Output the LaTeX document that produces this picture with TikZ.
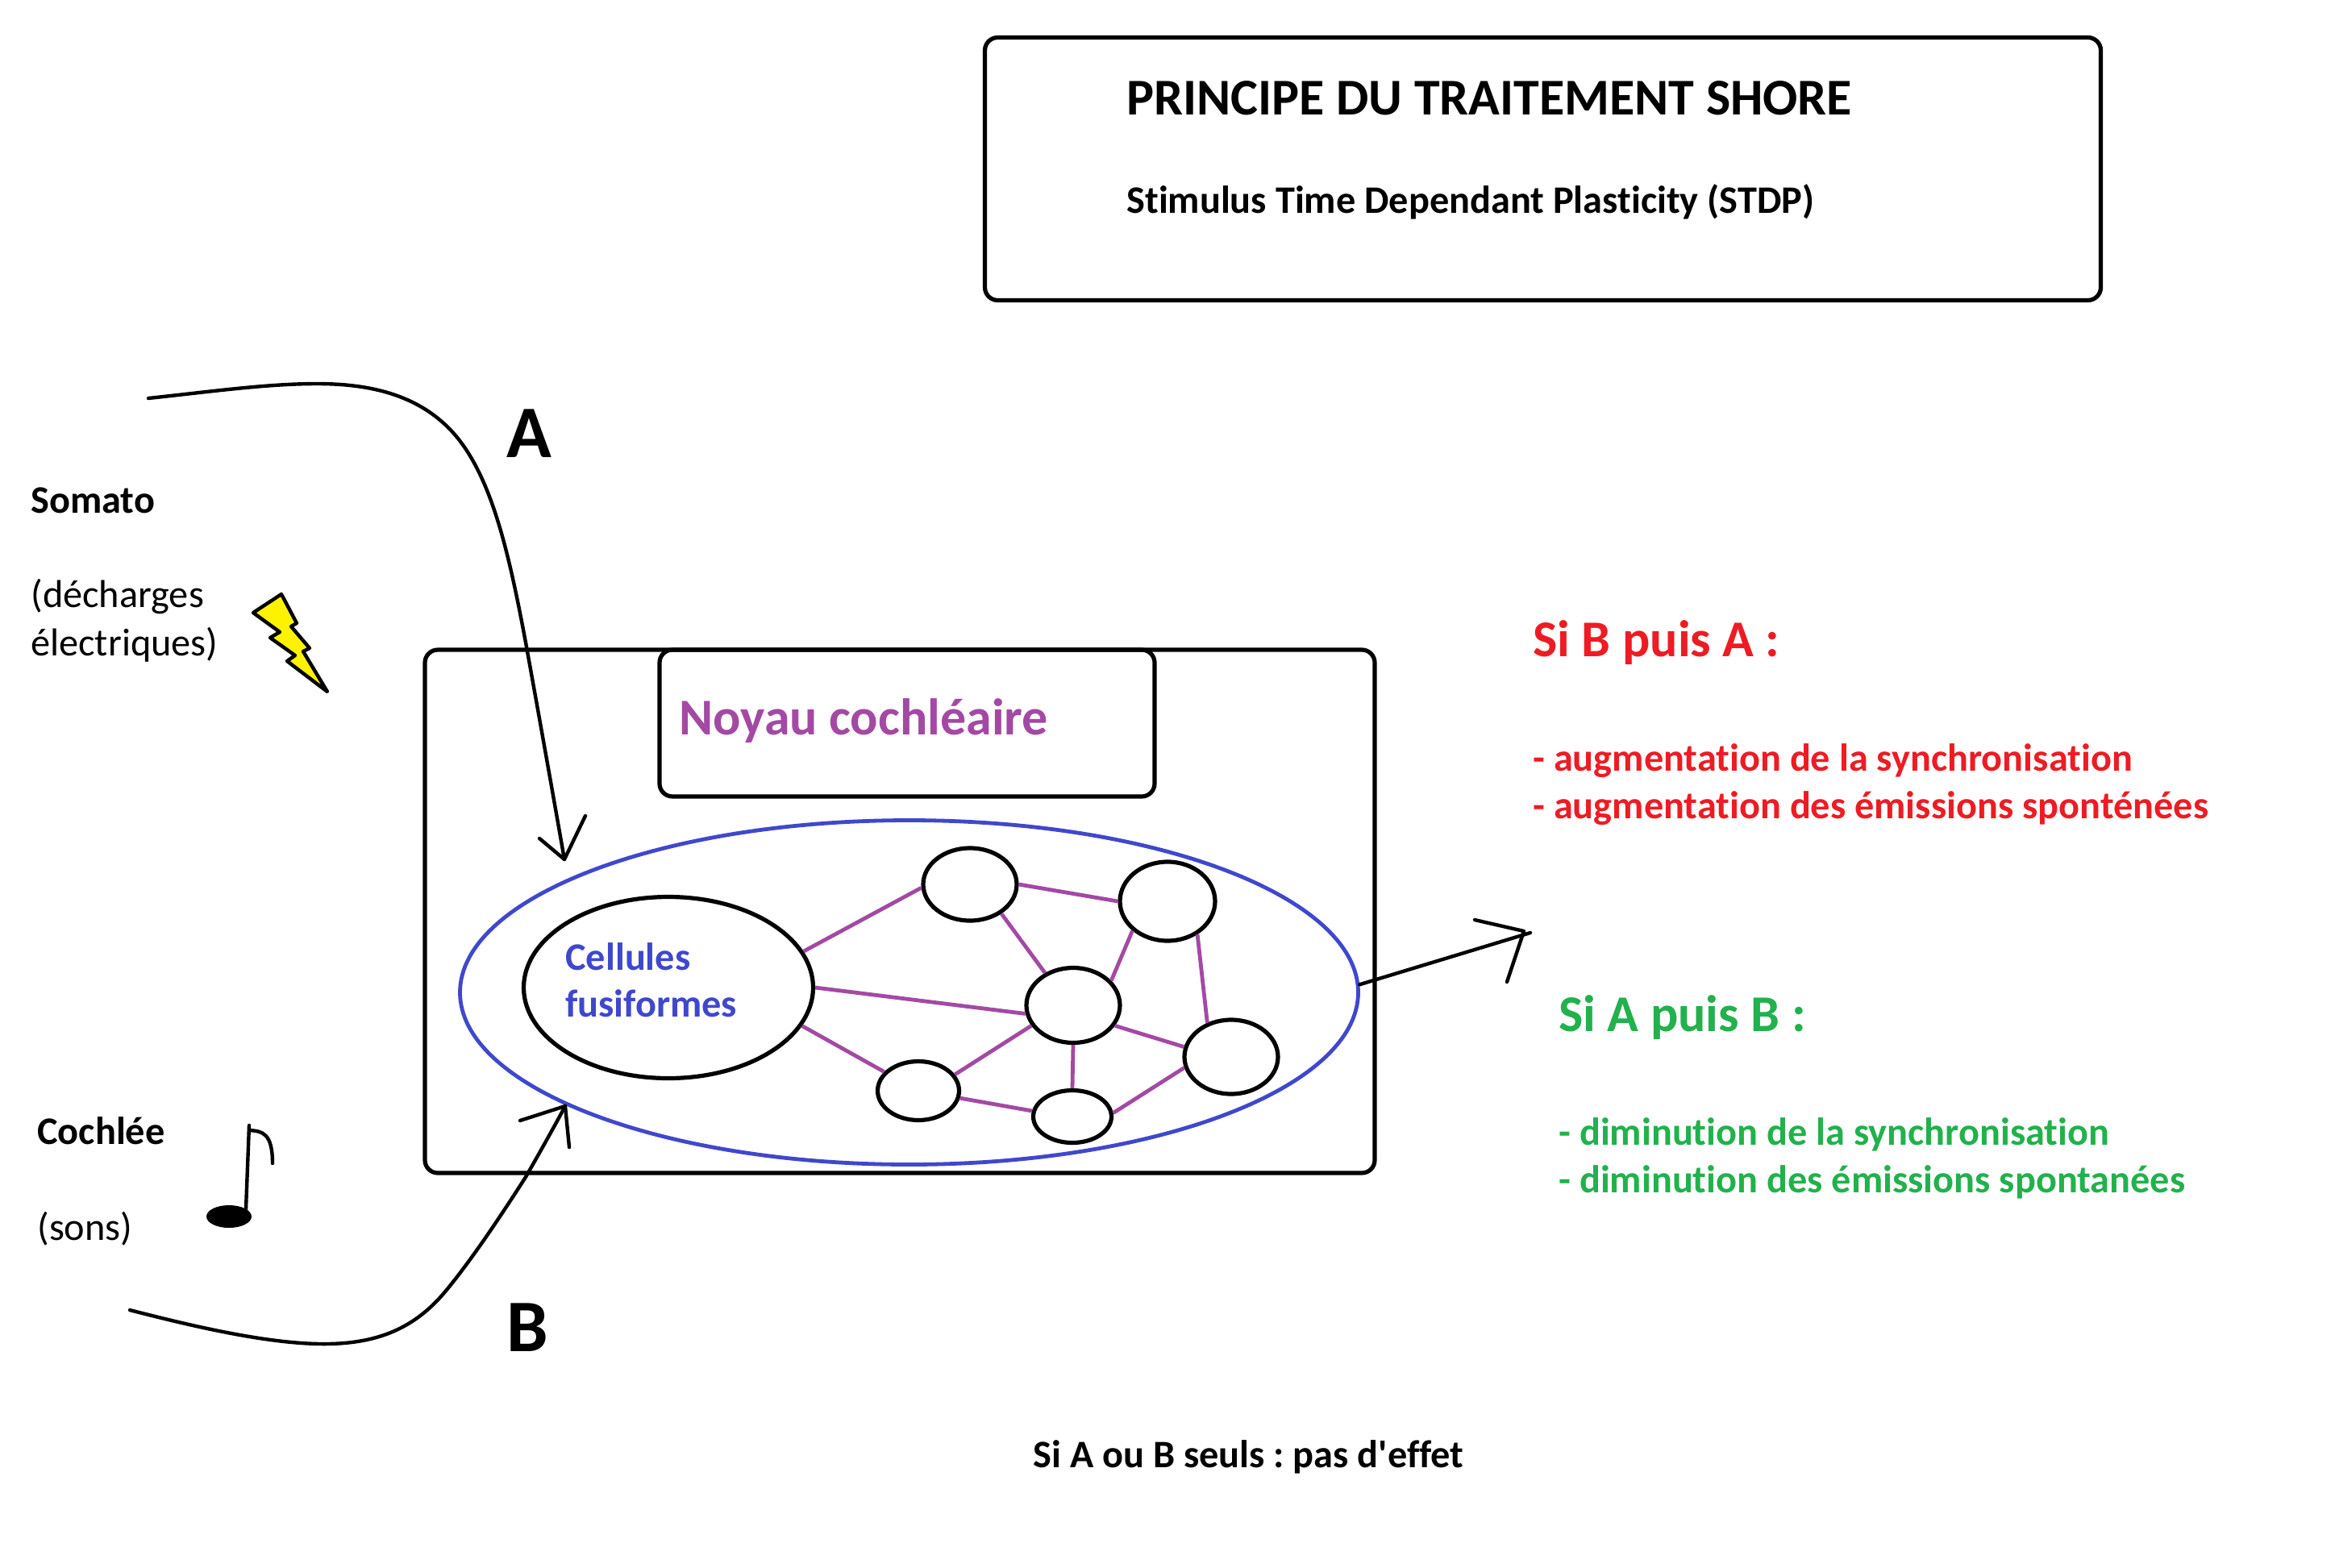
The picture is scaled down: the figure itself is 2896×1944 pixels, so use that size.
\documentclass[tikz,border=0pt]{standalone}
\usepackage{fontspec}
\setmainfont{Carlito}[Ligatures=NoCommon]
\usepackage{xcolor}
\usetikzlibrary{shapes.geometric}
\definecolor{shoreblue}{RGB}{63,72,204}
\definecolor{shorepurple}{RGB}{163,73,164}
\definecolor{shorered}{RGB}{237,28,36}
\definecolor{shoregreen}{RGB}{34,177,76}
\definecolor{shoreyellow}{RGB}{255,242,0}
\frenchspacing

\begin{document}
\begin{tikzpicture}[
    x=0.5pt, y=-0.5pt,
    box/.style={rectangle, draw, line width=2.6pt, rounded corners=8pt, inner sep=0pt},
    field/.style={ellipse, draw=shoreblue, line width=2.4pt, inner sep=0pt},
    cell/.style={ellipse, draw, line width=2.6pt, inner sep=0pt},
    link/.style={shorepurple, line width=2.4pt},
    wire/.style={line width=2.2pt, line cap=round, line join=round},
    label/.style={anchor=base west, inner sep=0pt, font=\fontsize{24.15}{28}\selectfont},
    strong/.style={label, font=\bfseries\fontsize{24.15}{28}\selectfont},
    headline/.style={label, font=\bfseries\fontsize{32}{38}\selectfont},
    letter/.style={label, font=\bfseries\fontsize{46}{54}\selectfont}
]
\useasboundingbox (0,0) rectangle (2896,1944);

% Title box
\node[box, minimum width=692pt, minimum height=163pt] (titlebox) at (1913.5,209.5) {};
\node[headline] (title) at (1397,142) {PRINCIPE DU TRAITEMENT SHORE};
\node[strong] (subtitle) at (1397,264) {Stimulus Time Dependant Plasticity (STDP)};

% Inputs on the left
\node[strong] (somato) at (38,636) {Somato};
\node[label] (decharges) at (38,753) {(décharges};
\node[label] (electriques) at (38,813) {électriques)};
\node[strong] (cochlee) at (46,1419) {Cochlée};
\node[label] (sons) at (46,1538) {(sons)};
\node[letter] (lettera) at (628,567) {A};
\node[letter] (letterb) at (628,1676) {B};

% Nucleus
\node[box, minimum width=589pt, minimum height=324.5pt] (nucleus) at (1116,1130.5) {};
\node[box, minimum width=307pt, minimum height=91pt] (nucleuslabel) at (1125,897) {};
\node[headline, shorepurple] (noyau) at (842,911) {Noyau cochléaire};
\node[field, minimum width=557pt, minimum height=213.5pt] (fibres) at (1127.5,1231) {};

% Cells
\node[cell, minimum width=179.5pt, minimum height=112.5pt] (big) at (829,1225) {};
\node[strong, shoreblue] (cellules) at (701,1203) {Cellules};
\node[strong, shoreblue] (fusiformes) at (701,1261) {fusiformes};
\node[cell, minimum width=58pt, minimum height=45pt] (n1) at (1203,1097) {};
\node[cell, minimum width=59pt, minimum height=49pt] (n2) at (1448,1118) {};
\node[cell, minimum width=58pt, minimum height=46.5pt] (n3) at (1331,1247) {};
\node[cell, minimum width=58pt, minimum height=46pt] (n4) at (1527,1311) {};
\node[cell, minimum width=50.5pt, minimum height=36.5pt] (n5) at (1139,1353) {};
\node[cell, minimum width=48.5pt, minimum height=32.5pt] (n6) at (1330,1385) {};

% Links between cells
\draw[link] (big.15) -- (n1.184);
\draw[link] (n1.0) -- (n2.180);
\draw[link] (n1.-43) -- (n3.131);
\draw[link] (n2.220) -- (n3.33);
\draw[link] (n2.-48) -- (n4.125);
\draw[link] (big.0) -- (n3.190);
\draw[link] (big.-16) -- (n5.151);
\draw[link] (n5.24) -- (n3.206);
\draw[link] (n3.-26) -- (n4.168);
\draw[link] (n3.south) -- (n6.north);
\draw[link] (n5.-10) -- (n6.172);
\draw[link] (n6.5) -- (n4.193);

% Free ends of the arrows
\coordinate (srca) at (184,494);
\coordinate (tipa) at (700,1066);
\coordinate (barba1) at (669,1040);
\coordinate (barba2) at (726,1012);
\coordinate (srcb) at (161,1625);
\coordinate (tipb) at (701,1372);
\coordinate (barbb1) at (645,1390);
\coordinate (barbb2) at (706,1423);
\coordinate (tipout) at (1898,1157);
\coordinate (barbout1) at (1829,1141);
\coordinate (barbout2) at (1869,1218);
\coordinate (headout) at (1890,1155);

% Arrows
\draw[wire] (srca) .. controls (260,486) and (330,476) .. (393,476) .. controls (460,476) and (528,490) .. (572,549) .. controls (612,603) and (632,690) .. (652,797) .. controls (668,885) and (684,975) .. (tipa);
\draw[wire] (barba1) -- (tipa) -- (barba2);
\draw[wire] (srcb) .. controls (250,1648) and (340,1668) .. (407,1667) .. controls (465,1666) and (510,1650) .. (548,1607) .. controls (580,1570) and (620,1510) .. (652,1460) .. controls (668,1432) and (685,1402) .. (tipb);
\draw[wire] (barbb1) -- (tipb) -- (barbb2);
\draw[wire] (fibres.1) -- (tipout);
\draw[wire] (barbout1) -- (headout) -- (barbout2);

% Bolt and note
\draw[wire, fill=shoreyellow] (349,737) -- (368,773) -- (361,777) -- (384,804) -- (376,808) -- (406,858) -- (356,820) -- (366,813) -- (335,791) -- (347,784) -- (314,760) -- cycle;
\fill (284,1509) ellipse [x radius=28, y radius=14];
\draw[wire] (305,1500) -- (309,1396);
\draw[wire] (309,1402) .. controls (325,1403) and (338,1405) .. (338,1443);

% Results on the right
\node[headline, shorered] (sibpuisa) at (1901,814) {Si B puis A :};
\node[strong, shorered] (augsync) at (1901,956) {- augmentation de la synchronisation};
\node[strong, shorered] (augemis) at (1901,1015) {- augmentation des émissions sponténées};
\node[headline, shoregreen] (siapuisb) at (1933,1279) {Si A puis B :};
\node[strong, shoregreen] (dimsync) at (1933,1420) {- diminution de la synchronisation};
\node[strong, shoregreen] (dimemis) at (1933,1479) {- diminution des émissions spontanées};

% Bottom note
\node[strong] (seuls) at (1281,1820) {Si A ou B seuls : pas d\textquotesingle effet};

\end{tikzpicture}
\end{document}
